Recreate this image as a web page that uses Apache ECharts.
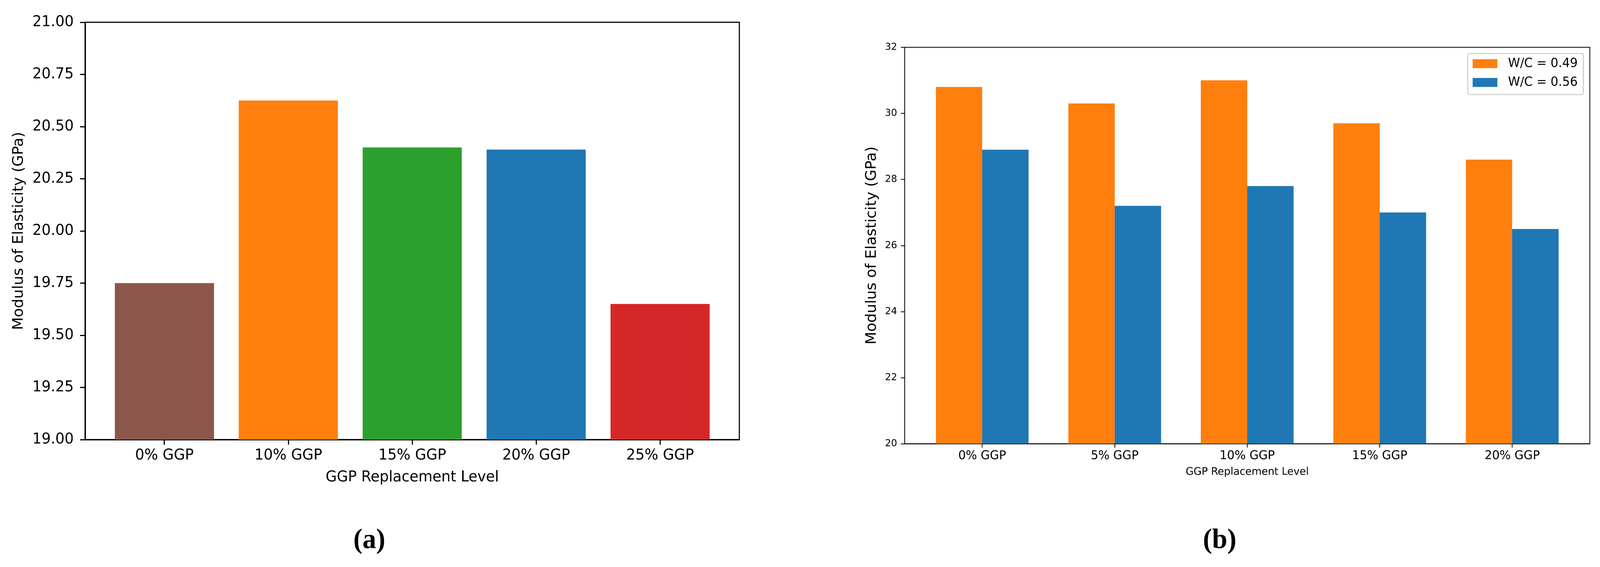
<!DOCTYPE html>
<html><head><meta charset="utf-8">
<script src="https://cdn.jsdelivr.net/npm/echarts@6/dist/echarts.min.js"></script>
<style>html,body{margin:0;padding:0;background:#fff;overflow:hidden}#c{width:4211px;height:1451px;transform-origin:0 0}</style>
</head><body><div id="c"></div>
<script>
// ---- Data ----
const catsA = ['0% GGP', '10% GGP', '15% GGP', '20% GGP', '25% GGP'];
const valuesA = [19.75, 20.625, 20.40, 20.39, 19.65];
const colorsA = ['#8c564b', '#ff7f0e', '#2ca02c', '#1f77b4', '#d62728'];

const catsB = ['0% GGP', '5% GGP', '10% GGP', '15% GGP', '20% GGP'];
const seriesNamesB = ['W/C = 0.49', 'W/C = 0.56'];
const wc049 = [30.8, 30.3, 31.0, 29.7, 28.6];
const wc056 = [28.9, 27.2, 27.8, 27.0, 26.5];
const colorsB = ['#ff7f0e', '#1f77b4'];

const xTitle = 'GGP Replacement Level';
const yTitle = 'Modulus of Elasticity (GPa)';

// ---- Fit the 4211x1451 design into the actual viewport ----
const W = 4211, H = 1451;
const el = document.getElementById('c');
const sx = (window.innerWidth || W) / W;
const sy = (window.innerHeight || H) / H;
if (Math.abs(sx - 1) > 0.002 || Math.abs(sy - 1) > 0.002) {
  el.style.transform = 'scale(' + sx + ',' + sy + ')';
}

// ---- Chart ----
const FF = 'DejaVu Sans';
const idxA = catsA.map((_, i) => i);
const idxB = catsB.map((_, i) => i);

const chart = echarts.init(el, null, {renderer: 'canvas', devicePixelRatio: 2});
chart.setOption({
  backgroundColor: '#ffffff',
  animation: false,
  grid: [
    {left: 224, top: 57, width: 1722, height: 1068, show: true, borderColor: '#000', borderWidth: 3, backgroundColor: 'transparent'},
    {left: 2381, top: 121, width: 1803, height: 1014.5, show: true, borderColor: '#000', borderWidth: 2, backgroundColor: 'transparent'}
  ],
  xAxis: [
    {
      gridIndex: 0, type: 'value', min: -0.64, max: 4.64,
      splitLine: {show: false},
      axisLine: {show: true, onZero: false, lineStyle: {color: '#000', width: 3}},
      axisTick: {show: true, customValues: idxA, length: 13, lineStyle: {color: '#000', width: 3}},
      axisLabel: {customValues: idxA, formatter: v => catsA[Math.round(v)], fontSize: 38, color: '#000', margin: 22, fontFamily: FF},
      name: xTitle, nameLocation: 'middle', nameGap: 78,
      nameTextStyle: {fontSize: 38, color: '#000', fontFamily: FF}
    },
    {
      gridIndex: 1, type: 'value', min: -0.585, max: 4.585,
      splitLine: {show: false},
      axisLine: {show: true, onZero: false, lineStyle: {color: '#000', width: 2}},
      axisTick: {show: true, customValues: idxB, length: 10, lineStyle: {color: '#000', width: 2}},
      axisLabel: {customValues: idxB, formatter: v => catsB[Math.round(v)], fontSize: 31, color: '#000', margin: 16, fontFamily: FF},
      name: xTitle, nameLocation: 'middle', nameGap: 59,
      nameTextStyle: {fontSize: 27, color: '#000', fontFamily: FF}
    }
  ],
  yAxis: [
    {
      gridIndex: 0, type: 'value', min: 19, max: 21, interval: 0.25,
      splitLine: {show: false},
      axisLine: {show: true, onZero: false, lineStyle: {color: '#000', width: 3}},
      axisTick: {show: true, length: 13, lineStyle: {color: '#000', width: 3}},
      axisLabel: {formatter: v => v.toFixed(2), fontSize: 38, color: '#000', margin: 30, fontFamily: FF},
      name: yTitle, nameLocation: 'middle', nameGap: 155, nameRotate: 90,
      nameTextStyle: {fontSize: 38, color: '#000', fontFamily: FF}
    },
    {
      gridIndex: 1, type: 'value', min: 20, max: 32, interval: 2,
      splitLine: {show: false},
      axisLine: {show: true, onZero: false, lineStyle: {color: '#000', width: 2}},
      axisTick: {show: true, length: 10, lineStyle: {color: '#000', width: 2}},
      axisLabel: {fontSize: 25, color: '#000', margin: 20, fontFamily: FF},
      name: yTitle, nameLocation: 'middle', nameGap: 67, nameRotate: 90,
      nameTextStyle: {fontSize: 38, color: '#000', fontFamily: FF}
    }
  ],
  legend: {
    data: seriesNamesB, orient: 'vertical', left: 3863, top: 137,
    itemWidth: 65, itemHeight: 23, itemGap: 16, icon: 'rect',
    textStyle: {fontSize: 32, color: '#000', fontFamily: FF, padding: [0, 0, 0, 23]},
    padding: [10, 15, 15, 13],
    borderColor: '#cccccc', borderWidth: 2.5, borderRadius: 5,
    backgroundColor: 'rgba(255,255,255,0.8)'
  },
  series: [
    {
      type: 'bar', xAxisIndex: 0, yAxisIndex: 0, barWidth: '80%', clip: true,
      data: valuesA.map((v, i) => ({value: [i, v], itemStyle: {color: colorsA[i]}}))
    },
    {
      name: seriesNamesB[0], type: 'bar', xAxisIndex: 1, yAxisIndex: 1,
      barWidth: '35%', barGap: '0%', clip: true,
      itemStyle: {color: colorsB[0]},
      data: wc049.map((v, i) => [i, v])
    },
    {
      name: seriesNamesB[1], type: 'bar', xAxisIndex: 1, yAxisIndex: 1,
      barWidth: '35%', barGap: '0%', clip: true,
      itemStyle: {color: colorsB[1]},
      data: wc056.map((v, i) => [i, v])
    }
  ],
  graphic: [
    {type: 'text', x: 972, y: 1384, style: {text: '(a)', font: 'bold 72px "Liberation Serif"', fill: '#000', align: 'center', verticalAlign: 'middle'}},
    {type: 'text', x: 3210, y: 1384, style: {text: '(b)', font: 'bold 72px "Liberation Serif"', fill: '#000', align: 'center', verticalAlign: 'middle'}}
  ]
});
</script>
</body></html>
